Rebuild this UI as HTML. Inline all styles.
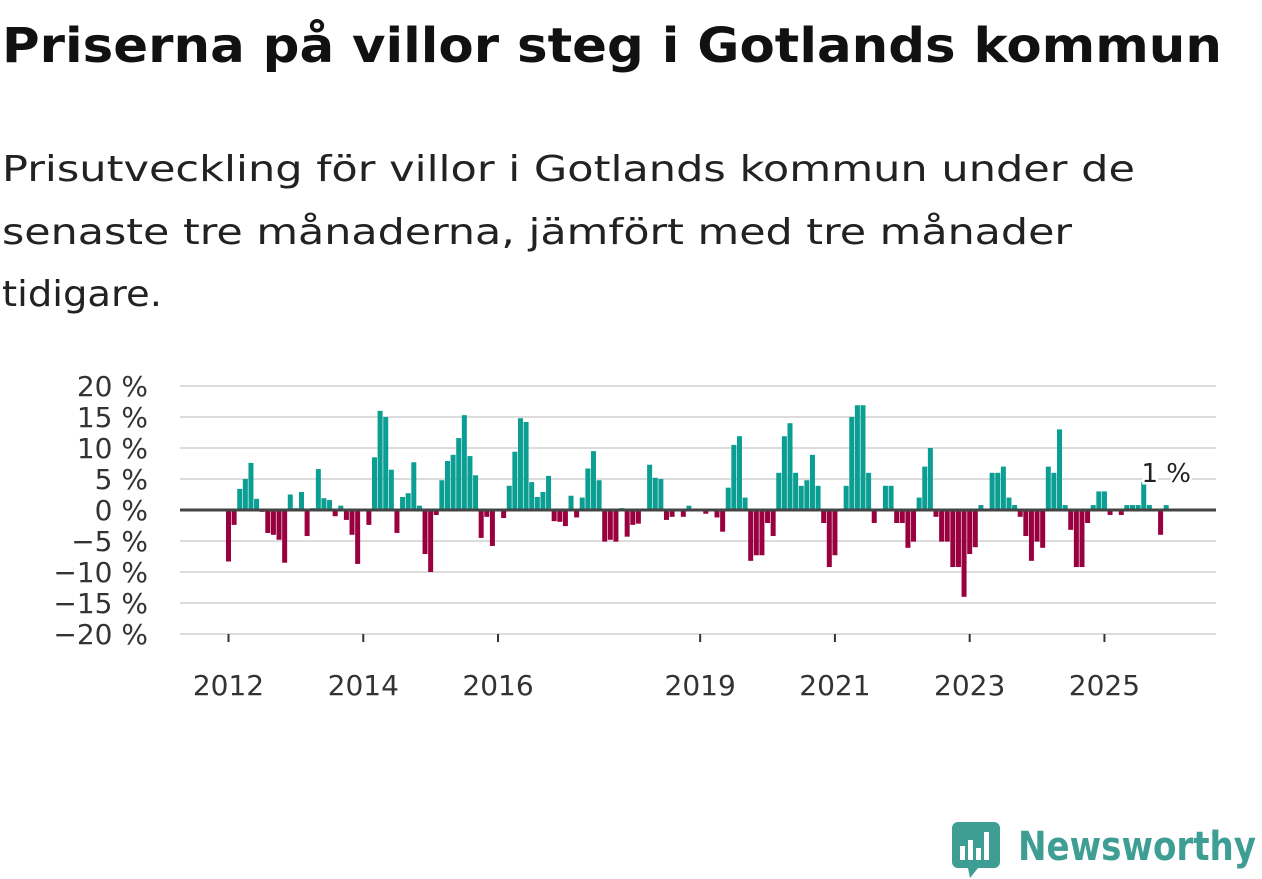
<!DOCTYPE html>
<html><head><meta charset="utf-8"><style>
html,body{margin:0;padding:0;background:#fff;width:1262px;height:879px;overflow:hidden}
svg{display:block;font-family:"DejaVu Sans","Liberation Sans",sans-serif}
</style></head><body>
<svg id="chart" width="1262" height="879">
<text x="2" y="62" font-size="48" font-weight="bold" fill="#111" textLength="1220" lengthAdjust="spacingAndGlyphs">Priserna på villor steg i Gotlands kommun</text>
<g font-size="36" fill="#222">
<text x="2" y="181" textLength="1133" lengthAdjust="spacingAndGlyphs">Prisutveckling för villor i Gotlands kommun under de</text>
<text x="2" y="244" textLength="1070" lengthAdjust="spacingAndGlyphs">senaste tre månaderna, jämfört med tre månader</text>
<text x="2" y="306" textLength="160" lengthAdjust="spacingAndGlyphs">tidigare.</text>
</g>
<g id="grid"></g>
<g id="bars"></g>
<g id="yaxis"></g>
<g id="xaxis"></g>
<g>
<path d="M958 822 h36 a6 6 0 0 1 6 6 v34 a6 6 0 0 1 -6 6 h-16 l-8 10 l-2 -10 h-10 a6 6 0 0 1 -6 -6 v-34 a6 6 0 0 1 6 -6z" fill="#3f9e94"/>
<rect x="960" y="846" width="5" height="14" fill="#fff"/>
<rect x="968" y="840" width="5" height="20" fill="#fff"/>
<rect x="976" y="848" width="5" height="12" fill="#fff"/>
<rect x="984" y="832" width="5" height="28" fill="#fff"/>
<text x="1018" y="860" font-size="40" font-weight="bold" fill="#3f9e94" textLength="238" lengthAdjust="spacingAndGlyphs">Newsworthy</text>
</g>
</svg>
<script>
const values = [-8.3,-2.4,3.4,5,7.6,1.8,-0.3,-3.7,-4,-4.8,-8.5,2.5,0.3,2.9,-4.2,0.3,6.6,1.9,1.6,-1,0.7,-1.6,-4,-8.7,0,-2.4,8.5,16,15,6.5,
-3.7,2.1,2.7,7.7,0.7,-7.1,-10,-0.8,4.8,7.9,8.9,11.6,15.3,8.7,5.6,-4.5,-1.1,-5.8,0,-1.3,3.9,9.4,14.8,14.2,4.5,2.1,2.9,5.5,-1.8,-1.9,-2.6,
2.3,-1.2,2,6.7,9.5,4.8,-5.1,-4.8,-5.1,0.3,-4.3,-2.4,-2.2,0,7.3,5.2,5,-1.6,-1.1,0,-1.1,0.7,0,0,-0.6,0,-1.2,-3.5,3.6,10.5,11.9,2,
-8.2,-7.3,-7.3,-2.1,-4.2,6,11.9,14,6,3.9,4.8,8.9,3.9,-2.1,-9.2,-7.3,0,3.9,15,16.9,16.9,6,-2.1,0,3.9,3.9,-2.1,-2.1,-6.1,-5.1,2,7,
10,-1.1,-5.1,-5.1,-9.2,-9.2,-14,-7.1,-6,0.8,0,6,6,7,2,0.8,-1.1,-4.2,-8.2,-5.1,-6.1,7,6,13,0.8,-3.2,-9.2,-9.2,-2.1,0.8,
3,3,-0.8,0,-0.8,0.8,0.8,0.8,4.5,0.8,0,-4,0.8];
const startYear = 2012;
const yTicks = [20,15,10,5,0,-5,-10,-15,-20];
const xTickYears = [2012,2014,2016,2019,2021,2023,2025];
const annotation = "1 %";

const NS="http://www.w3.org/2000/svg";
const y0=510, pxPer=6.2, xL=180, xR=1216;
const yScale=v=>y0-v*pxPer;
const xScale=i=>228.5+i*5.615;
function mk(tag,attrs,parent,txt){const e=document.createElementNS(NS,tag);for(const k in attrs)e.setAttribute(k,attrs[k]);if(txt!=null)e.textContent=txt;parent.appendChild(e);return e;}
const grid=document.getElementById('grid'),bars=document.getElementById('bars'),ya=document.getElementById('yaxis'),xa=document.getElementById('xaxis');
yTicks.forEach(t=>{
  if(t!==0){const l=mk('line',{x1:xL,x2:xR,y1:yScale(t),y2:yScale(t),stroke:'#dcdcdc','stroke-width':2},grid);
  
  }
  const lab=(t<0?'\u2212'+(-t):t)+' %';
  const tx=mk('text',{x:148,y:yScale(t)+10,'font-size':28,fill:'#333','text-anchor':'end'},ya,lab);
  
  
});
values.forEach((v,i)=>{
  if(v===0)return;
  const x=xScale(i)-2.5, y=v>0?yScale(v):y0, h=Math.abs(v)*pxPer;
  const r=mk('rect',{x:x,y:y,width:5,height:h,fill:v>0?'#0b9e92':'#990040'},bars);
  
  
});
const zl=mk('line',{x1:xL,x2:xR,y1:y0,y2:y0,stroke:'#444','stroke-width':3},grid.parentNode);


const bl=mk('line',{x1:xL,x2:xR,y1:634,y2:634,stroke:'#dcdcdc','stroke-width':1},xa);


xTickYears.forEach(yr=>{
  const x=xScale((yr-startYear)*12);
  const tk=mk('line',{x1:x,x2:x,y1:634,y2:642,stroke:'#333','stroke-width':2},xa);
  
  
  const tx=mk('text',{x:x,y:695,'font-size':28,fill:'#333','text-anchor':'middle'},xa,String(yr));
  
  
});
const lastX=xScale(values.length-1);
const an=mk('text',{x:lastX,y:482,'font-size':26,fill:'#222','text-anchor':'middle',stroke:'#fff','stroke-width':5,'paint-order':'stroke'},bars,annotation);


</script>
</body></html>
